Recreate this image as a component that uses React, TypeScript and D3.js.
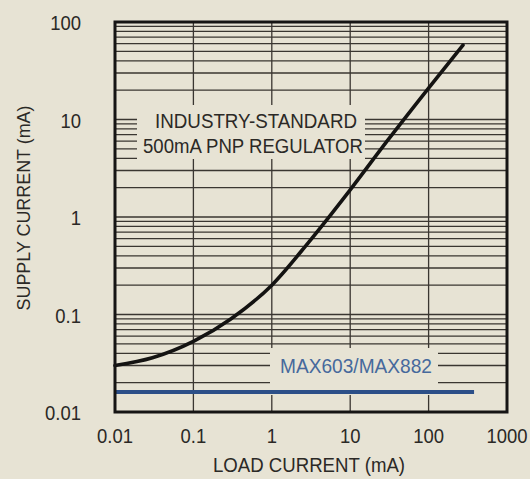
import React, { useEffect, useRef } from 'react';
import * as d3 from 'd3';

// load current (mA) vs supply current (mA)
const xTicks = [0.01, 0.1, 1, 10, 100, 1000];
const xTickLabels = ['0.01', '0.1', '1', '10', '100', '1000'];
const yTicks = [0.01, 0.1, 1, 10, 100];
const yTickLabels = ['0.01', '0.1', '1', '10', '100'];

// industry-standard 500mA PNP regulator
const pnpLoad = [0.01, 0.03, 0.1, 0.3, 1, 3, 10, 30, 100, 275];
const pnpSupply = [0.03, 0.036, 0.053, 0.09, 0.2, 0.56, 1.9, 6.1, 21, 58];

// MAX603/MAX882
const maxLoad = [0.01, 380];
const maxSupply = [0.016, 0.016];

const W = 530;
const H = 479;
const paper = '#e7e3d4';
const ink = '#2b2926';

export default function App() {
  const ref = useRef<SVGSVGElement | null>(null);

  useEffect(() => {
    const svg = d3.select(ref.current);
    svg.selectAll('*').remove();

    const x = d3.scaleLog().domain([0.01, 1000]).range([115, 507]);
    const y = d3.scaleLog().domain([0.01, 100]).range([412, 22]);

    svg.append('rect').attr('width', W).attr('height', H).attr('fill', paper);

    const grid = svg.append('g').attr('stroke', '#3a3631').attr('stroke-width', 1.3);

    // horizontal minor + major lines
    const hLines: number[] = [];
    yTicks.slice(0, -1).forEach(d => {
      for (let k = 1; k <= 9; k++) {
        if (d * k > 0.01) hLines.push(d * k);
      }
    });
    grid.selectAll('line.h')
      .data(hLines).enter()
      .append('line')
      .attr('class', 'h')
      .attr('x1', x(0.01)).attr('x2', x(1000))
      .attr('y1', d => y(d)).attr('y2', d => y(d));

    // vertical decade lines
    grid.selectAll('line.v')
      .data(xTicks.slice(1, -1)).enter()
      .append('line')
      .attr('class', 'v')
      .attr('x1', d => x(d)).attr('x2', d => x(d))
      .attr('y1', y(100)).attr('y2', y(0.01));

    const font = 'Liberation Sans, Arial, Helvetica, sans-serif';
    const fs = 20.5;

    // annotation labels with paper backing that hides grid
    const addLabel = (lines: { t: string; cx: number; by: number; len: number }[], color: string, pad: number[]) => {
      const g = svg.append('g');
      const bg = g.append('rect').attr('fill', paper);
      const tx = g.selectAll('text')
        .data(lines).enter()
        .append('text')
        .attr('x', d => d.cx)
        .attr('y', d => d.by)
        .attr('text-anchor', 'middle')
        .attr('font-family', font)
        .attr('font-size', fs)
        .attr('fill', color)
        .attr('textLength', d => d.len)
        .attr('lengthAdjust', 'spacingAndGlyphs')
        .text(d => d.t);
      const boxes = tx.nodes().map(n => (n as SVGTextElement).getBBox());
      const x0 = d3.min(boxes, b => b.x)! - pad[0];
      const x1 = d3.max(boxes, b => b.x + b.width)! + pad[1];
      const y0 = d3.min(boxes, b => b.y)! - pad[2];
      const y1 = d3.max(boxes, b => b.y + b.height)! + pad[3];
      bg.attr('x', x0).attr('y', y0).attr('width', x1 - x0).attr('height', y1 - y0);
    };

    addLabel([
      { t: 'INDUSTRY-STANDARD', cx: 256, by: 128, len: 202 },
      { t: '500mA PNP REGULATOR', cx: 253, by: 153, len: 220 },
    ], ink, [6, 2, 4, 2]);

    addLabel([
      { t: 'MAX603/MAX882', cx: 356, by: 373, len: 152 },
    ], '#46699c', [10, 6, 6, 18]);

    // curves
    const line = d3.line<[number, number]>()
      .x(d => x(d[0]))
      .y(d => y(d[1]))
      .curve(d3.curveMonotoneX);

    svg.append('path')
      .datum(maxLoad.map((v, i) => [v, maxSupply[i]] as [number, number]))
      .attr('d', line)
      .attr('fill', 'none')
      .attr('stroke', '#2c4f88')
      .attr('stroke-width', 4);

    svg.append('path')
      .datum(pnpLoad.map((v, i) => [v, pnpSupply[i]] as [number, number]))
      .attr('d', line)
      .attr('fill', 'none')
      .attr('stroke', '#141312')
      .attr('stroke-width', 3.6)
      .attr('stroke-linecap', 'round');

    // frame
    svg.append('rect')
      .attr('x', x(0.01)).attr('y', y(100))
      .attr('width', x(1000) - x(0.01))
      .attr('height', y(0.01) - y(100))
      .attr('fill', 'none')
      .attr('stroke', '#161514')
      .attr('stroke-width', 3);

    // tick labels (slightly condensed like the original)
    svg.selectAll('text.xt')
      .data(xTicks).enter()
      .append('text')
      .attr('class', 'xt')
      .attr('transform', d => `translate(${x(d)},443)scale(0.9,1)`)
      .attr('text-anchor', 'middle')
      .attr('font-family', font)
      .attr('font-size', fs)
      .attr('fill', ink)
      .text((d, i) => xTickLabels[i]);

    svg.selectAll('text.yt')
      .data(yTicks).enter()
      .append('text')
      .attr('class', 'yt')
      .attr('transform', d => `translate(81,${y(d) + 8})scale(0.9,1)`)
      .attr('text-anchor', 'end')
      .attr('font-family', font)
      .attr('font-size', fs)
      .attr('fill', ink)
      .text((d, i) => yTickLabels[i]);

    svg.append('text')
      .attr('x', 309)
      .attr('y', 472)
      .attr('text-anchor', 'middle')
      .attr('font-family', font)
      .attr('font-size', fs)
      .attr('fill', ink)
      .attr('textLength', 192)
      .attr('lengthAdjust', 'spacingAndGlyphs')
      .text('LOAD CURRENT (mA)');

    svg.append('text')
      .attr('transform', 'translate(30,208)rotate(-90)')
      .attr('text-anchor', 'middle')
      .attr('font-family', font)
      .attr('font-size', 19)
      .attr('fill', ink)
      .attr('textLength', 205)
      .attr('lengthAdjust', 'spacingAndGlyphs')
      .text('SUPPLY CURRENT (mA)');
  }, []);

  return (
    <svg
      ref={ref}
      width={W}
      height={H}
      style={{ position: 'absolute', left: 0, top: 0, display: 'block' }}
    />
  );
}
